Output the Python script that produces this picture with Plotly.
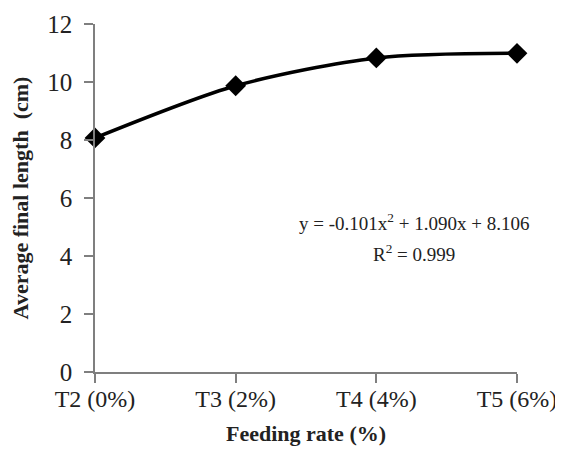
import plotly.graph_objects as go

categories = ["T2 (0%)", "T3 (2%)", "T4 (4%)", "T5 (6%)"]
avg_length = [8.07, 9.87, 10.83, 10.99]
y_ticks = [0, 2, 4, 6, 8, 10, 12]
equation = "y = -0.101x<sup>2</sup> + 1.090x + 8.106"
r_squared = "R<sup>2</sup> = 0.999"

font_family = "Liberation Serif, Times New Roman, serif"
txt = "#222"

fig = go.Figure()
fig.add_trace(go.Scatter(
    x=categories, y=avg_length, mode="lines+markers",
    line=dict(color="black", width=3.5, shape="spline", smoothing=0.8),
    marker=dict(symbol="diamond", size=16, color="black"),
    showlegend=False, cliponaxis=False,
))

# page body has an 8px default margin, so the figure is sized to fit
fig.update_layout(
    width=555, height=444,
    margin=dict(l=87, r=46, t=16, b=80),
    paper_bgcolor="white", plot_bgcolor="white",
    font=dict(family=font_family, color=txt, size=22),
    xaxis=dict(
        type="category", range=[0, 3], automargin=False,
        showline=True, linecolor="#7f7f7f", linewidth=1.5,
        ticks="outside", ticklen=9, tickcolor="#7f7f7f", tickwidth=1.5,
        ticklabelstandoff=-5,
        showgrid=False, zeroline=False,
        tickfont=dict(size=24, family=font_family, color=txt),
        title=dict(text="<b>Feeding rate (%)</b>", font=dict(size=22, family=font_family, color=txt)),
    ),
    yaxis=dict(
        range=[0, 12], tickvals=y_ticks, automargin=False,
        showline=True, linecolor="#7f7f7f", linewidth=1.5,
        ticks="outside", ticklen=9, tickcolor="#7f7f7f", tickwidth=1.5,
        ticklabelstandoff=7,
        showgrid=False, zeroline=False,
        tickfont=dict(size=25, family=font_family, color=txt),
        title=dict(text="<b>Average final length  (cm)</b>", font=dict(size=22, family=font_family, color=txt)),
    ),
)

fig.add_annotation(
    x=0.756, y=0.431, xref="paper", yref="paper", xanchor="center", yanchor="middle",
    text=equation, showarrow=False,
    font=dict(size=19, family=font_family, color=txt),
)
fig.add_annotation(
    x=0.756, y=0.342, xref="paper", yref="paper", xanchor="center", yanchor="middle",
    text=r_squared, showarrow=False,
    font=dict(size=19, family=font_family, color=txt),
)

fig.write_html("out.html")
